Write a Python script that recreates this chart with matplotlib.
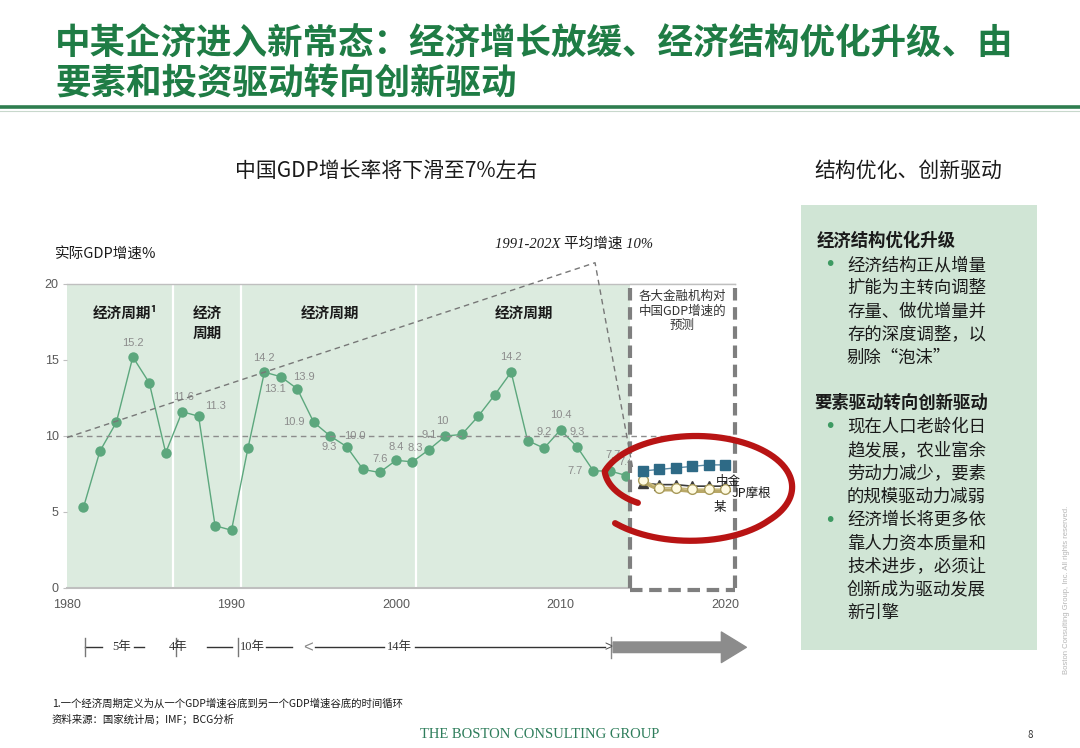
import matplotlib
matplotlib.use('Agg')
import matplotlib.pyplot as plt
import numpy as np
from matplotlib.patches import Rectangle

plt.rcParams['font.family'] = ['Noto Sans CJK SC', 'DejaVu Sans']

# ---- data ----
years = list(range(1981, 2015))
gdp = [5.3, 9.0, 10.9, 15.2, 13.5, 8.9, 11.6, 11.3, 4.1, 3.8,
       9.2, 14.2, 13.9, 13.1, 10.9, 10.0, 9.3, 7.8, 7.6, 8.4,
       8.3, 9.1, 10.0, 10.1, 11.3, 12.7, 14.2, 9.7, 9.2, 10.4,
       9.3, 7.7, 7.7, 7.4]

label_years = [1984, 1987, 1988, 1992, 1993, 1994, 1995, 1996, 1997, 1999, 2000,
               2001, 2002, 2003, 2007, 2009, 2010, 2011, 2012, 2013, 2014]
label_texts = ['15.2', '11.6', '11.3', '14.2', '13.9', '13.1', '10.9', '10.0', '9.3', '7.6', '8.4',
               '8.3', '9.1', '10', '14.2', '9.2', '10.4', '9.3', '7.7', '7.7', '7.4']
label_offsets = [(0, 14), (1, 15), (17, 10), (0, 14), (23, 0), (-22, 0), (-20, 0), (25, 0), (-17, 0),
                 (1, 13), (0, 13), (3, 14), (0, 15), (-3, 15), (0, 15), (0, 16), (0, 15), (0, 15),
                 (-18, 0), (3, 16), (0, 14)]

fc_years = [2015, 2016, 2017, 2018, 2019, 2020]
fc_cicc = [7.7, 7.8, 7.9, 8.0, 8.1, 8.1]
fc_jpm = [6.9, 6.8, 6.8, 6.7, 6.7, 6.7]
fc_other = [7.1, 6.6, 6.6, 6.5, 6.5, 6.5]

cycle_bounds = [1986.46, 1990.58, 2001.2]
cycle_labels = ['经济周期¹', '经济\n周期', '经济周期', '经济周期']
cycle_x = [1983.5, 1988.55, 1996.0, 2007.8]

span_labels = ['5年', '4年', '10年', '14年']
span_x = [1983.3, 1986.75, 1991.25, 2000.2]

avg_growth = 10
forecast_start = 2014.2

W, H = 1080, 748
fig = plt.figure(figsize=(W / 100, H / 100), dpi=100)


def fx(px):
    return px / W


def fy(py):
    return 1 - py / H


green = '#1f7c45'
pt_green = '#5ca77d'
gray = '#7f7f7f'

# ---- slide title ----
fig.text(fx(55), fy(44), '中某企济进入新常态：经济增长放缓、经济结构优化升级、由',
         fontsize=25.6, color=green, fontweight='bold', va='center', ha='left')
fig.text(fx(55), fy(84), '要素和投资驱动转向创新驱动',
         fontsize=25.6, color=green, fontweight='bold', va='center', ha='left')
fig.add_artist(plt.Line2D([0, 1], [fy(107), fy(107)], color='#2e7d4f', lw=2.6))
fig.add_artist(plt.Line2D([0, 1], [fy(111), fy(111)], color='#c8d8cc', lw=0.8))

fig.text(fx(386), fy(171), '中国GDP增长率将下滑至7%左右', fontsize=15,
         ha='center', va='center', color='#1a1a1a', fontweight='medium')
fig.text(fx(908), fy(171), '结构优化、创新驱动', fontsize=15,
         ha='center', va='center', color='#1a1a1a', fontweight='medium')
fig.text(fx(55), fy(255), '实际GDP增速%', fontsize=10.5, ha='left', va='center', color='#1a1a1a')

# ---- chart ----
ax = fig.add_axes([fx(67), fy(588), fx(725) - fx(67), fy(284) - fy(588)])
ax.set_xlim(1980, 2020)
ax.set_ylim(0, 20)
for s in ax.spines.values():
    s.set_visible(False)
ax.set_facecolor('none')

ax.add_patch(Rectangle((1980, 0), forecast_start - 1980, 20, facecolor='#dcebdf',
                       edgecolor='none', zorder=0))
for xb in cycle_bounds:
    ax.plot([xb, xb], [0, 20], color='white', lw=1.6, zorder=1)

ax.plot([1980, 2020.6], [20, 20], color='#bfbfbf', lw=1, clip_on=False, zorder=1)
ax.plot([1980, forecast_start], [0, 0], color='#bfbfbf', lw=1.5, clip_on=False, zorder=1)

for t, x in zip(cycle_labels, cycle_x):
    ax.text(x, 18.6, t, ha='center', va='top', fontsize=10.5, fontweight='bold',
            color='#1a1a1a', linespacing=1.3, zorder=2)

ax.plot(years, gdp, color=pt_green, lw=1, zorder=3)
ax.plot(years, gdp, 'o', color=pt_green, ms=7.5, mec='none', zorder=3)

gdp_by_year = dict(zip(years, gdp))
for yr, txt, off in zip(label_years, label_texts, label_offsets):
    ax.annotate(txt, (yr, gdp_by_year[yr]), xytext=off, textcoords='offset pixels',
                ha='center', va='center', fontsize=8, color='#8c8c8c',
                family=['Liberation Sans'], zorder=3)

# forecast box
ax.add_patch(Rectangle((forecast_start, 0), 2020.6 - forecast_start, 20, facecolor='white',
                       edgecolor='none', zorder=4, clip_on=False))
ax.plot([forecast_start, forecast_start], [0, 19.9], color=gray, lw=3, ls=(0, (3, 1.6)),
        zorder=6, clip_on=False)
ax.plot([2020.6, 2020.6], [0, 19.9], color=gray, lw=3, ls=(0, (3, 1.6)),
        zorder=6, clip_on=False)
ax.plot([forecast_start, 2020.6], [-0.1, -0.1], color=gray, lw=3, ls=(0, (3, 1.6)),
        zorder=6, clip_on=False)
ax.plot([forecast_start, 2020.6], [20, 20], color='#bfbfbf', lw=1, clip_on=False, zorder=6)
ax.text(2017.4, 19.6, '各大金融机构对\n中国GDP增速的\n预测', ha='center', va='top',
        fontsize=9, color='#333333', linespacing=1.15, zorder=7)

# average and annotation dashed lines
ax.plot([1980, 2020.3], [avg_growth, avg_growth], color='#8c8c8c', lw=1, ls=(0, (4, 3)),
        zorder=6, clip_on=False)
ax.plot([1980, 2012.1, 2014.4], [9.9, 21.4, 7.8], color='#777777', lw=1, ls=(0, (4, 3)),
        zorder=6, clip_on=False)
ax.text(2010.8, 22.6, '1991-202X 平均增速 10%', ha='center', va='center', fontsize=10.5,
        style='italic', family=['Liberation Serif', 'Noto Sans CJK SC'], color='#1a1a1a',
        clip_on=False)

# forecasts
ax.plot(fc_years, fc_jpm, '-^', color='#3b3b3b', ms=7, lw=1.2, zorder=7, clip_on=False)
ax.plot(fc_years, [v - 0.15 for v in fc_other], color='#b9a867', lw=2.2, zorder=7, clip_on=False)
ax.plot(fc_years, fc_other, '-o', color='#c9ba7c', mfc='#fffbe3', mec='#a89a5a', ms=7,
        lw=1.2, zorder=8, clip_on=False)
ax.plot(fc_years, fc_cicc, '-s', color='#5a8aa5', mfc='#2e6a86', mec='#2e6a86', ms=6.5,
        lw=1, zorder=8, clip_on=False)
ax.text(2020.2, 7.0, '中金', fontsize=9, ha='center', va='center', color='#1a1a1a', zorder=9)
ax.text(2021.6, 6.2, 'JP摩根', fontsize=9, ha='center', va='center', color='#1a1a1a', zorder=9,
        clip_on=False)
ax.text(2019.7, 5.3, '某', fontsize=9, ha='center', va='center', color='#1a1a1a', zorder=9)

# hand-drawn red loop
theta = np.linspace(np.radians(207), np.radians(-140), 300)
r = np.clip(0.68 + (np.radians(207) - theta) / np.radians(45) * 0.32, None, 1.0)
r = r + np.clip((np.radians(-40) - theta) / np.radians(100), 0, None) * 0.1
ax.plot(2018.24 + 5.84 * r * np.cos(theta), 6.64 + 3.36 * r * np.sin(theta),
        color='#b81414', lw=4.5, solid_capstyle='round', zorder=9, clip_on=False)

# ticks
ax.set_yticks([0, 5, 10, 15, 20])
ax.set_xticks([1980, 1990, 2000, 2010, 2020])
ax.tick_params(axis='y', length=3, color='#bfbfbf', labelcolor='#595959', labelsize=9, pad=3)
ax.tick_params(axis='x', length=0, labelcolor='#595959', labelsize=9, pad=8)
for lab in ax.get_xticklabels() + ax.get_yticklabels():
    lab.set_family(['Liberation Sans'])

# period spans under the axis
yb = -3.9
span_segments = [(1981.1, 1982.1), (1984.1, 1984.7), (1988.5, 1990.0), (1992.1, 1993.7),
                 (1995.1, 1999.3), (2001.15, 2012.7)]
for a, b in span_segments:
    ax.plot([a, b], [yb, yb], color='#333333', lw=1, clip_on=False)
for xbar in [1981.1, 1986.6, 1990.4]:
    ax.plot([xbar, xbar], [yb - 0.6, yb + 0.6], color='#777777', lw=1, clip_on=False)
for t, x in zip(span_labels, span_x):
    ax.text(x, yb, t, ha='center', va='center', fontsize=9, color='#333333',
            family=['Liberation Serif', 'Noto Sans CJK SC'], clip_on=False)
ax.text(1994.65, yb, '<', ha='center', va='center', fontsize=12, color='#888888',
        family=['Liberation Sans'], clip_on=False)
ax.text(2012.9, yb, '>', ha='center', va='center', fontsize=10, color='#555555',
        family=['Liberation Sans'], clip_on=False)
ax.plot([2013.1, 2013.1], [yb - 0.7, yb + 0.7], color='#888888', lw=1, clip_on=False)
ax.annotate('', xy=(2021.3, yb), xytext=(2013.2, yb), annotation_clip=False,
            arrowprops=dict(arrowstyle='simple,head_length=0.9,head_width=1.1,tail_width=0.38',
                            color='#8c8c8c', mutation_scale=20, shrinkA=0, shrinkB=0))

# ---- right panel ----
fig.add_artist(Rectangle((fx(801), fy(650)), fx(1037) - fx(801), fy(205) - fy(650),
                         transform=fig.transFigure, facecolor='#d0e5d5', edgecolor='none'))

h1 = '经济结构优化升级'
b1 = ['经济结构正从增量', '扩能为主转向调整', '存量、做优增量并', '存的深度调整，以', '剔除“泡沫”']
h2 = '要素驱动转向创新驱动'
b2 = ['现在人口老龄化日', '趋发展，农业富余', '劳动力减少，要素', '的规模驱动力减弱']
b3 = ['经济增长将更多依', '靠人力资本质量和', '技术进步，必须让', '创新成为驱动发展', '新引擎']

fig.text(fx(817), fy(241), h1, fontsize=12.5, fontweight='bold', va='center', color='#1a1a1a')
fig.text(fx(814), fy(403), h2, fontsize=12.5, fontweight='bold', va='center', color='#1a1a1a')
for block, y0 in [(b1, 265), (b2, 427), (b3, 520)]:
    fig.text(fx(830), fy(y0), '•', fontsize=14, color='#3d9a62', ha='center', va='center',
             family=['DejaVu Sans'])
    for i, line in enumerate(block):
        fig.text(fx(847), fy(y0 + 23.2 * i), line, fontsize=12.5, va='center', color='#1a1a1a')

# ---- footer ----
fig.text(fx(52), fy(703), '1.一个经济周期定义为从一个GDP增速谷底到另一个GDP增速谷底的时间循环',
         fontsize=7.5, va='center', color='#1a1a1a')
fig.text(fx(52), fy(719), '资料来源：国家统计局；IMF；BCG分析', fontsize=7.5, va='center',
         color='#1a1a1a')
fig.text(fx(540), fy(735), 'THE BOSTON CONSULTING GROUP', fontsize=10.5, ha='center', va='center',
         color='#2e7d5b', family=['Liberation Serif'])
fig.text(fx(1030), fy(735), '8', fontsize=7, ha='center', va='center', color='#333333')
fig.text(fx(1066), fy(590), 'Boston Consulting Group, Inc. All rights reserved.', fontsize=5.5,
         rotation=90, ha='center', va='center', color='#b5b5b5', family=['Liberation Sans'])

fig.savefig('out.png', dpi=100)
